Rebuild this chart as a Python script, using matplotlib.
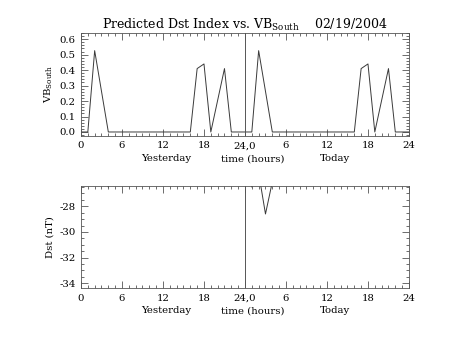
import matplotlib
matplotlib.use("Agg")
import matplotlib.pyplot as plt
from matplotlib.ticker import MultipleLocator, FixedLocator, FixedFormatter

plt.rcParams['font.family'] = 'DejaVu Serif'
plt.rcParams['mathtext.fontset'] = 'custom'
plt.rcParams['mathtext.rm'] = 'DejaVu Serif'
plt.rcParams['axes.unicode_minus'] = False

# hourly samples, yesterday 00h .. today 24h
hours = list(range(49))
vb_south = [0.0, 0.0, 0.526, 0.263, 0.0, 0.0, 0.0, 0.0, 0.0, 0.0, 0.0, 0.0,
            0.0, 0.0, 0.0, 0.0, 0.0, 0.41, 0.44, 0.0, 0.205, 0.41, 0.0, 0.0,
            0.0, 0.0, 0.526, 0.263, 0.0, 0.0, 0.0, 0.0, 0.0, 0.0, 0.0, 0.0,
            0.0, 0.0, 0.0, 0.0, 0.0, 0.41, 0.44, 0.0, 0.205, 0.41, 0.0, 0.0,
            0.0]
dst = [-25.0, -25.0, -25.0, -25.0, -26.5, -25.0, -25.0, -25.0, -25.0, -25.0,
       -25.0, -25.0, -25.0, -25.0, -25.0, -25.0, -25.0, -25.0, -25.0, -25.0,
       -25.0, -25.0, -25.0, -25.0, -25.0, -26.5, -25.4, -28.6, -26.1, -25.0,
       -25.0, -25.0, -25.0, -25.0, -25.0, -25.0, -25.0, -25.0, -25.0, -25.0,
       -25.0, -25.0, -25.0, -25.0, -25.0, -25.0, -25.0, -25.0, -25.0]

xtick_pos = [0, 6, 12, 18, 24, 30, 36, 42, 48]
xtick_labels = ['0', '6', '12', '18', '24,0', '6', '12', '18', '24']
day_labels = [(12.4, 'Yesterday'), (25.2, 'time (hours)'), (37.2, 'Today')]

line_color = '#3a3a3a'
fs = 7.3

fig = plt.figure(figsize=(4.53, 3.4), dpi=100)
ax1 = fig.add_axes([0.1788, 0.6009, 0.724, 0.302])
ax2 = fig.add_axes([0.1788, 0.1529, 0.724, 0.300])


def style_axis(ax, ymajor, yminor):
    ax.set_xlim(0, 48)
    ax.xaxis.set_major_locator(FixedLocator(xtick_pos))
    ax.xaxis.set_major_formatter(FixedFormatter(xtick_labels))
    ax.xaxis.set_minor_locator(MultipleLocator(1))
    ax.yaxis.set_major_locator(MultipleLocator(ymajor))
    ax.yaxis.set_minor_locator(MultipleLocator(yminor))
    ax.tick_params(which='both', direction='in', top=True, right=True,
                   width=0.6, color='#555555', labelsize=fs, pad=4)
    ax.tick_params(which='major', length=5)
    ax.tick_params(which='minor', length=2.5)
    for s in ax.spines.values():
        s.set_linewidth(0.6)
        s.set_color('#555555')
    ax.axvline(24, color='#555555', lw=0.7)
    for x, txt in day_labels:
        ax.text(x, -0.225, txt, transform=ax.get_xaxis_transform(),
                ha='center', va='center', fontsize=fs)


ax1.plot(hours, vb_south, color=line_color, lw=0.7)
ax1.set_ylim(-0.024, 0.64)
style_axis(ax1, 0.1, 0.02)
ax1.yaxis.set_major_formatter(plt.FormatStrFormatter('%.1f'))
ax1.set_ylabel(r'VB$_{\rm South}$', fontsize=fs, labelpad=3)
ax1.set_title(r'Predicted Dst Index vs. VB$_{\rm South}$    02/19/2004',
              fontsize=9, pad=3)

ax2.plot(hours, dst, color=line_color, lw=0.7)
ax2.set_ylim(-34.37, -26.42)
style_axis(ax2, 2, 0.5)
ax2.yaxis.set_major_formatter(plt.FormatStrFormatter('%d'))
ax2.set_ylabel('Dst (nT)', fontsize=fs, labelpad=3)

fig.savefig('out.png', dpi=100)
